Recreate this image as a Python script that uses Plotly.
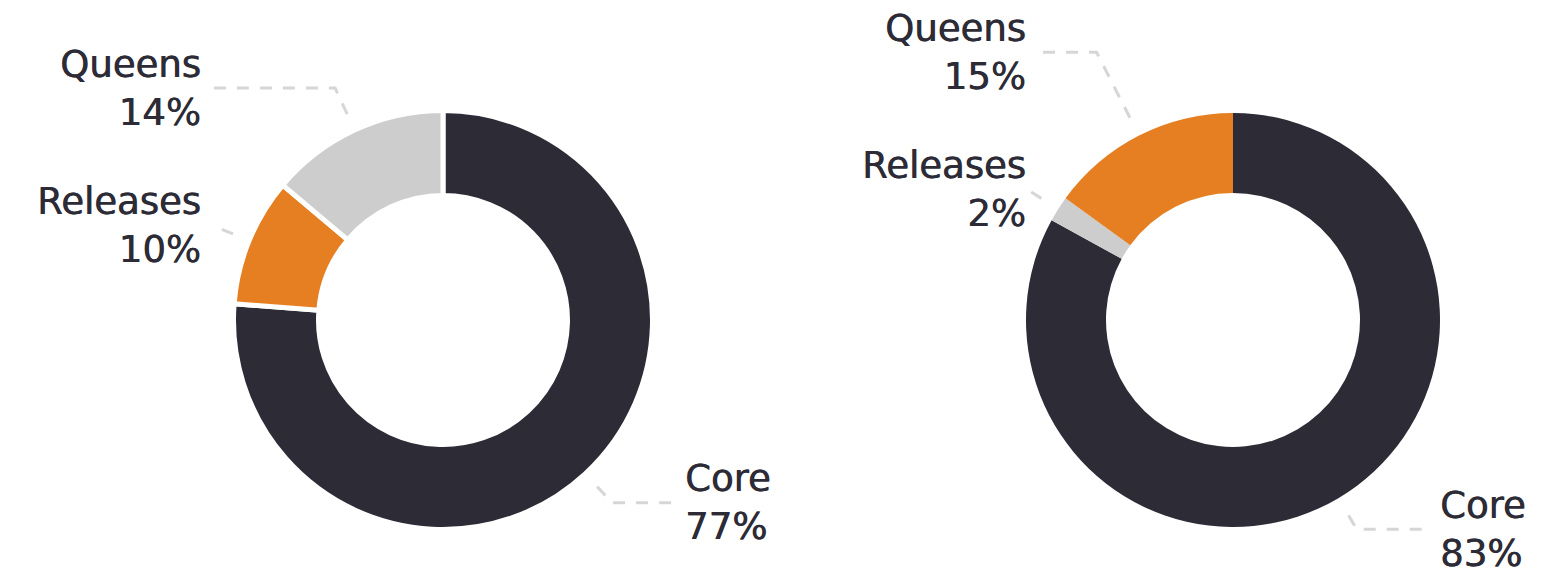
import math
import plotly.graph_objects as go

W, H = 1548, 570

DARK = "#2c2b36"
ORANGE = "#e67f22"
GRAY = "#cdcdcd"
LEADER = "#d6d6d6"

# Data for the two donuts
left_labels = ["Core", "Releases", "Queens"]
left_values = [77, 10, 14]
left_colors = [DARK, ORANGE, GRAY]

right_labels = ["Core", "Releases", "Queens"]
right_values = [83, 2, 15]
right_colors = [DARK, GRAY, ORANGE]

# Geometry of each donut in pixels
left_geo = dict(cx=443, cy=320, r=207, r_hole=127, gap=5,
                tick_r0=227, label_r=249, line_col=230, text_col=240)
right_geo = dict(cx=1233, cy=320, r=207, r_hole=127, gap=0,
                 tick_r0=227, label_r=243, line_col=193, text_col=205)

LABEL_SPACING = 137.5
FONT = dict(family="DejaVu Sans", size=37, color=DARK,
            shadow=f"0.6px 0 0 {DARK}")


def px_x(x):
    return x / W


def px_y(y):
    return 1 - y / H


fig = go.Figure()
shapes = []
annotations = []


def add_donut(labels, values, colors, g):
    r_dom = g["r"] + g["gap"] / 2
    hole = (g["r_hole"] - g["gap"] / 2) / r_dom
    fig.add_trace(go.Pie(
        labels=labels, values=values, sort=False, direction="clockwise",
        rotation=0, hole=hole, textinfo="none", hoverinfo="label+percent",
        marker=dict(colors=colors,
                    line=dict(color="white", width=g["gap"])),
        domain=dict(x=[px_x(g["cx"] - r_dom), px_x(g["cx"] + r_dom)],
                    y=[px_y(g["cy"] + r_dom), px_y(g["cy"] - r_dom)]),
        showlegend=False,
    ))

    # slice mid-angles (clockwise from 12 o'clock)
    total = sum(values)
    cum = 0
    items = []
    for lab, v in zip(labels, values):
        a0 = cum / total * 2 * math.pi
        cum += v
        a1 = cum / total * 2 * math.pi
        mid = (a0 + a1) / 2
        dx, dy = math.sin(mid), -math.cos(mid)
        side = 1 if dx > 0 else -1
        items.append(dict(label=lab, value=v, dx=dx, dy=dy, side=side,
                          y=g["cy"] + g["label_r"] * dy))

    # keep labels on each side apart vertically
    left_side = sorted([i for i in items if i["side"] < 0], key=lambda i: -i["y"])
    prev = None
    for it in left_side:
        if prev is not None:
            it["y"] = min(it["y"], prev - LABEL_SPACING)
        prev = it["y"]
    right_side = sorted([i for i in items if i["side"] > 0], key=lambda i: i["y"])
    prev = None
    for it in right_side:
        if prev is not None:
            it["y"] = max(it["y"], prev + LABEL_SPACING)
        prev = it["y"]

    for it in items:
        sx = g["cx"] + g["tick_r0"] * it["dx"]
        sy = g["cy"] + g["tick_r0"] * it["dy"]
        t = (it["y"] - g["cy"]) / it["dy"]
        kx = g["cx"] + t * it["dx"]
        ky = it["y"]
        col = g["cx"] + it["side"] * g["line_col"]
        ex = min(col, kx) if it["side"] < 0 else max(col, kx)
        path = (f"M {px_x(sx)},{px_y(sy)} L {px_x(kx)},{px_y(ky)} "
                f"L {px_x(ex)},{px_y(ky)}")
        shapes.append(dict(type="path", xref="paper", yref="paper", path=path,
                           line=dict(color=LEADER, width=3, dash="12px,11px")))
        tx = g["cx"] + it["side"] * g["text_col"]
        anchor = "right" if it["side"] < 0 else "left"
        annotations.append(dict(
            x=px_x(tx), y=px_y(ky), xref="paper", yref="paper",
            xanchor=anchor, yanchor="middle", align=anchor,
            text=f"{it['label']}<br>{it['value']}%", showarrow=False,
            font=FONT,
        ))


add_donut(left_labels, left_values, left_colors, left_geo)
add_donut(right_labels, right_values, right_colors, right_geo)

fig.update_layout(
    width=W, height=H,
    margin=dict(l=0, r=0, t=0, b=0),
    paper_bgcolor="white", plot_bgcolor="white",
    shapes=shapes, annotations=annotations,
    showlegend=False,
)

fig.write_html("out.html")
